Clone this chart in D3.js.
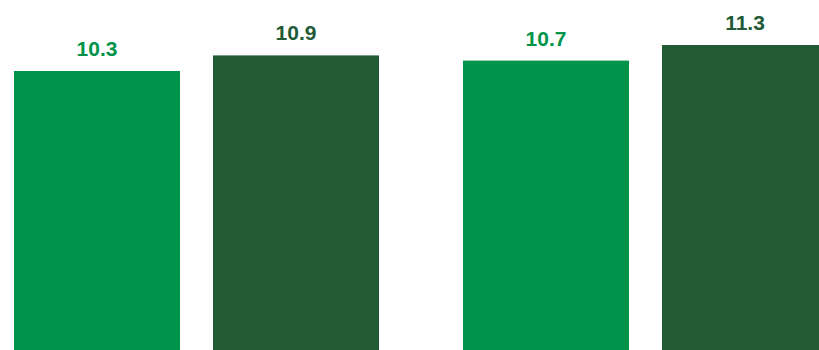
<!DOCTYPE html>
<html>
<head>
<meta charset="utf-8">
<script src="https://cdn.jsdelivr.net/npm/d3@7"></script>
<style>
  html, body { margin: 0; padding: 0; background: #fff; }
  svg { display: block; }
</style>
</head>
<body>
<svg id="chart" width="819" height="350"></svg>
<script>
const groups = ["A", "B"];
const series = ["s1", "s2"];
const valuesS1 = [10.3, 10.7];
const valuesS2 = [10.9, 11.3];
const colors = ["#00944a", "#215a35"];

const W = 819, H = 350;
const svg = d3.select("#chart");

const x0 = d3.scaleBand().domain(groups).range([14, 828]).paddingInner(0.1871).paddingOuter(0);
const x1 = d3.scaleBand().domain(series).range([0, x0.bandwidth()]).paddingInner(0.1658).paddingOuter(0);
const y = d3.scaleLinear().domain([-0.43, 11.3]).range([H, 45]);

const data = [];
groups.forEach((g, i) => {
  data.push({ g, s: "s1", v: valuesS1[i], c: colors[0] });
  data.push({ g, s: "s2", v: valuesS2[i], c: colors[1] });
});

svg.selectAll("rect.bar").data(data).enter().append("rect")
  .attr("class", "bar")
  .attr("x", d => x0(d.g) + x1(d.s))
  .attr("y", d => y(d.v))
  .attr("width", x1.bandwidth())
  .attr("height", d => y(-0.43) - y(d.v))
  .attr("fill", d => d.c);

svg.selectAll("text.lbl").data(data).enter().append("text")
  .attr("class", "lbl")
  .attr("x", d => x0(d.g) + x1(d.s) + x1.bandwidth() / 2)
  .attr("y", d => y(d.v) - 15)
  .attr("text-anchor", "middle")
  .attr("font-family", "Liberation Sans, Arial, sans-serif")
  .attr("font-weight", "bold")
  .attr("font-size", "21px")
  .attr("fill", d => d.c)
  .text(d => d.v.toFixed(1));
</script>
</body>
</html>
